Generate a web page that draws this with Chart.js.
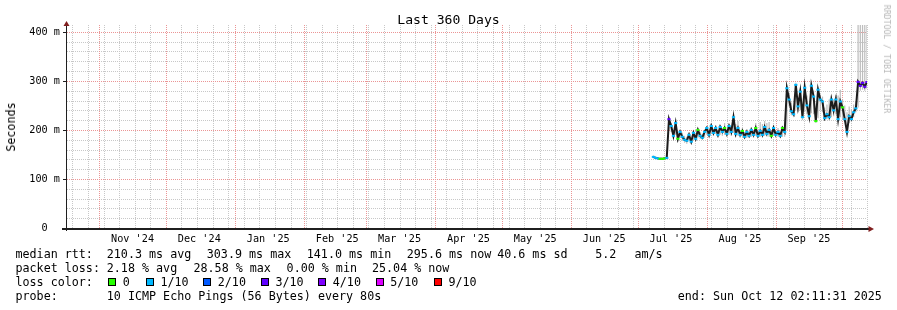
<!DOCTYPE html>
<html><head><meta charset="utf-8">
<script src="https://cdn.jsdelivr.net/npm/chart.js"></script>
<style>
html,body{margin:0;padding:0;background:#fff;}
#wrap{position:relative;width:897px;height:310px;overflow:hidden;font-family:'DejaVu Sans Mono',monospace;color:#000;}
#c{position:absolute;left:0;top:0;}
.t{position:absolute;white-space:pre;font-size:11.7px;line-height:14px;}
.sq{position:absolute;width:8px;height:8px;box-sizing:border-box;border:1px solid #000;}
#title{position:absolute;left:0;top:11.5px;width:897px;text-align:center;font-size:13.1px;line-height:16px;white-space:pre;}
#ylab{position:absolute;left:10.5px;top:127px;transform:translate(-50%,-50%) rotate(-90deg);font-size:11.7px;white-space:pre;}
#wm{position:absolute;left:887px;top:59px;transform:translate(-50%,-50%) rotate(90deg);font-size:8.2px;white-space:pre;color:#b8b8b8;}
</style></head><body>
<div id="wrap">
<canvas id="c" width="897" height="310"></canvas>
<div id="title">Last 360 Days</div>
<div id="ylab">Seconds</div>
<div id="wm">RRDTOOL / TOBI OETIKER</div>
<div class="t" style="left:15.5px;top:247.3px">median rtt:</div>
<div class="t" style="left:106.8px;top:247.3px">210.3 ms avg</div>
<div class="t" style="left:206.8px;top:247.3px">303.9 ms max</div>
<div class="t" style="left:306.8px;top:247.3px">141.0 ms min</div>
<div class="t" style="left:406.8px;top:247.3px">295.6 ms now</div>
<div class="t" style="left:497.2px;top:247.3px">40.6 ms sd</div>
<div class="t" style="left:595.2px;top:247.3px">5.2</div>
<div class="t" style="left:634.5px;top:247.3px">am/s</div>
<div class="t" style="left:15.5px;top:261.3px">packet loss:</div>
<div class="t" style="left:106.8px;top:261.3px">2.18 % avg</div>
<div class="t" style="left:193.5px;top:261.3px">28.58 % max</div>
<div class="t" style="left:286.6px;top:261.3px">0.00 % min</div>
<div class="t" style="left:372px;top:261.3px">25.04 % now</div>
<div class="t" style="left:15.5px;top:275.3px">loss color:</div>
<div id="lossLegend"></div>
<div class="t" style="left:15.5px;top:289.3px">probe:</div>
<div class="t" style="left:106.8px;top:289.3px">10 ICMP Echo Pings (56 Bytes) every 80s</div>
<div class="t" style="left:677.8px;top:289.3px">end: Sun Oct 12 02:11:31 2025</div>
</div>
<script>
// ---------- data (days since graph start, Oct 17 2024 02:11:31) ----------
const firstDay = 264; // first sample, one sample per day
const median = [145,143,142,141,141,142,143,
 222,208,188,214,182,196,186,180,178,190,
 176,194,182,200,188,184,196,204,190,208,
 194,204,190,206,196,204,192,208,196,226,
 192,204,190,198,186,196,188,200,190,204,
 188,198,190,206,192,200,188,204,190,196,
 188,204,196,285,262,238,232,292,248,278,
 226,286,250,228,290,268,218,282,262,258,
 224,232,226,262,240,262,222,258,246,222,
 196,228,222,236,244,298,290,296,288,298];
const smokeLo = [142,140,139,139,139,139,140,
 200,196,182,190,176,184,178,174,172,178,
 172,180,178,184,182,180,184,190,186,192,
 188,192,186,190,188,190,186,190,188,194,
 186,188,184,186,182,184,184,186,184,188,
 184,186,184,188,186,186,184,188,184,186,
 184,186,186,200,248,230,226,240,236,240,
 220,236,232,222,234,232,214,224,240,236,
 218,222,220,226,228,232,216,226,222,216,
 190,214,216,226,236,246,280,282,280,284];
const smokeHi = [148,146,145,144,144,145,147,
 226,214,196,218,190,200,194,188,186,194,
 184,198,190,204,196,192,200,208,198,212,
 202,210,200,210,204,214,200,212,206,230,
 212,218,200,204,196,202,196,206,198,214,
 198,216,212,218,214,216,198,210,198,204,
 196,208,202,290,276,256,250,296,266,284,
 250,290,270,250,294,280,240,286,272,268,
 246,252,262,270,262,272,270,282,262,250,
 236,248,242,252,258,420,430,430,430,420];
const lossCount = [1,1,1,0,0,0,1,
 3,1,1,1,0,1,1,1,1,1,
 1,1,1,0,1,1,1,1,1,1,
 1,1,1,1,1,0,1,1,1,1,
 1,1,1,0,1,1,1,1,1,0,
 1,1,1,1,1,1,0,1,1,1,
 1,0,1,1,1,1,1,1,1,1,
 1,1,1,1,1,1,0,1,1,1,
 1,1,1,1,1,1,1,1,0,1,
 1,1,1,1,1,3,3,3,3,3];
const lossLevels = [0,1,2,3,4,5,9];
const lossLabels = ['0','1/10','2/10','3/10','4/10','5/10','9/10'];
const lossColors = ['#26ff00','#00b8ff','#0059ff','#5e00ff','#7e00ff','#dd00ff','#ff0000'];
const yTickValues = [0,20,40,60,80,100,120,140,160,180,200,220,240,260,280,300,320,340,360,380,400];
const monthLabels = ["Nov '24","Dec '24","Jan '25","Feb '25","Mar '25","Apr '25","May '25","Jun '25","Jul '25","Aug '25","Sep '25"];
const monthStarts = [[2024,10],[2024,11],[2025,0],[2025,1],[2025,2],[2025,3],[2025,4],[2025,5],[2025,6],[2025,7],[2025,8],[2025,9]];
const spanDays = 360;
const yMax = 414;

// ---------- derived ticks ----------
const startMs = Date.UTC(2024,9,17,2,11,31);
const dayOf = (y,m,d) => (Date.UTC(y,m,d) - startMs) / 864e5;
const monthDays = monthStarts.map(([y,m]) => dayOf(y,m,1));
const labelDays = monthStarts.slice(0, monthLabels.length).map(([y,m]) => dayOf(y,m,16));
const weekDays = [];
for (let d = dayOf(2024,9,20); d <= spanDays; d += 7) {
  if (!monthDays.some(m => Math.abs(m - d) < 0.01)) weekDays.push(d);
}
const labelTicks = labelDays.map((v,i) => ({value:v, text:monthLabels[i]}));

const colorFor = c => lossColors[lossLevels.indexOf(c)];
const GRID = '#c8c8c8';
const MGRID = '#eb9595';

// loss legend boxes
const sqX = [108,145.5,203,261,318,376,434];
const lbX = [122.8,160.5,217.8,275.5,332.8,390.2,448.5];
const legendEl = document.getElementById('lossLegend');
lossLabels.forEach((lab,i) => {
  const s = document.createElement('div');
  s.className = 'sq'; s.style.left = sqX[i]+'px'; s.style.top = '278px'; s.style.background = lossColors[i];
  legendEl.appendChild(s);
  const t = document.createElement('div');
  t.className = 't'; t.style.left = lbX[i]+'px'; t.style.top = '275.3px'; t.textContent = lab;
  legendEl.appendChild(t);
});

// dotted rrdtool-style grid, placed through the chart's scales
const rrdGrid = {
  id: 'rrdGrid',
  beforeDatasetsDraw(chart) {
    const {ctx, chartArea: a, scales: {x, y}} = chart;
    const top = Math.ceil(a.top), bot = Math.floor(a.bottom), lft = Math.ceil(a.left) + 1, rgt = Math.floor(a.right);
    const vline = (v, col) => {
      const px = Math.round(x.getPixelForValue(v));
      if (px <= a.left || px > a.right) return;
      ctx.fillStyle = col;
      for (let yy = top; yy < bot; yy += 2) ctx.fillRect(px, yy, 1, 1);
    };
    const hline = (v, col) => {
      const py = Math.round(y.getPixelForValue(v));
      if (py >= a.bottom) return;
      ctx.fillStyle = col;
      for (let xx = lft; xx < rgt; xx += 2) ctx.fillRect(xx, py, 1, 1);
    };
    ctx.save();
    yTickValues.filter(v => v % 100 !== 0).forEach(v => hline(v, GRID));
    weekDays.forEach(v => vline(v, GRID));
    yTickValues.filter(v => v % 100 === 0).forEach(v => hline(v, MGRID));
    monthDays.forEach(v => vline(v, MGRID));
    ctx.restore();
  }
};

const decor = {
  id: 'decor',
  afterDraw(chart) {
    const {ctx, chartArea: a} = chart;
    const ys = chart.scales.y;
    ctx.save();
    ctx.fillStyle = '#1f1f1f';
    ctx.fillRect(a.left, a.top - 2, 1, a.bottom - a.top + 5);
    yTickValues.filter(v => v % 100 === 0 && v > 0).forEach(v => {
      const p = Math.round(ys.getPixelForValue(v));
      ctx.fillRect(a.left - 3, p, 3, 1);
    });
    ctx.fillRect(a.left - 4, a.bottom, a.right - a.left + 6, 2);
    ctx.fillStyle = '#801f1f';
    ctx.beginPath();
    ctx.moveTo(a.left + 0.5, a.top - 4);
    ctx.lineTo(a.left - 2.5, a.top + 1);
    ctx.lineTo(a.left + 3.5, a.top + 1);
    ctx.closePath(); ctx.fill();
    ctx.beginPath();
    ctx.moveTo(a.right + 7, a.bottom + 1);
    ctx.lineTo(a.right + 1.5, a.bottom - 2);
    ctx.lineTo(a.right + 1.5, a.bottom + 4);
    ctx.closePath(); ctx.fill();
    ctx.restore();
  }
};

new Chart(document.getElementById('c'), {
  type: 'line',
  data: {
    datasets: [
      {
        type: 'line',
        order: 0,
        data: median.map((v,i) => ({x: firstDay + i, y: v})),
        borderColor: '#1c1c1c',
        borderWidth: 2,
        tension: 0,
        pointStyle: 'line',
        pointRadius: 1.6,
        pointBorderWidth: 2,
        pointBorderColor: lossCount.map(colorFor),
        pointBackgroundColor: lossCount.map(colorFor),
        clip: 0
      },
      {
        type: 'bar',
        order: 1,
        data: smokeLo.map((lo,i) => ({x: firstDay + i, y: [lo, smokeHi[i]]})),
        backgroundColor: '#bdbdbd',
        borderWidth: 0,
        barPercentage: 0.55,
        categoryPercentage: 1,
        grouped: false,
        clip: 0
      }
    ]
  },
  options: {
    responsive: false,
    animation: false,
    devicePixelRatio: 1,
    events: [],
    layout: {padding: {left: 0, top: 25, right: 30, bottom: 0}},
    plugins: {legend: {display: false}, tooltip: {enabled: false}, title: {display: false}},
    scales: {
      x: {
        type: 'linear',
        min: 0, max: spanDays,
        offset: false,
        afterFit(s) { s.height = 82; },
        afterBuildTicks(s) { s.ticks = labelTicks.map(t => ({...t})); },
        ticks: {
          autoSkip: false, maxRotation: 0, minRotation: 0, padding: 5,
          color: '#000',
          font: {family: 'DejaVu Sans Mono', size: 10.2},
          callback: (v, i, ticks) => ticks[i].text
        },
        grid: {display: false, drawTicks: false},
        border: {display: false}
      },
      y: {
        type: 'linear',
        min: 0, max: yMax,
        afterFit(s) { s.width = 66; },
        afterBuildTicks(s) { s.ticks = yTickValues.filter(v => v % 100 === 0).map(v => ({value: v})); },
        ticks: {
          autoSkip: false,
          padding: 6,
          color: '#000',
          font: {family: 'DejaVu Sans Mono', size: 10.2},
          callback: v => v === 0 ? '0  ' : v + ' m'
        },
        grid: {display: false, drawTicks: false},
        border: {display: false}
      }
    }
  },
  plugins: [rrdGrid, decor]
});
</script>
</body></html>
